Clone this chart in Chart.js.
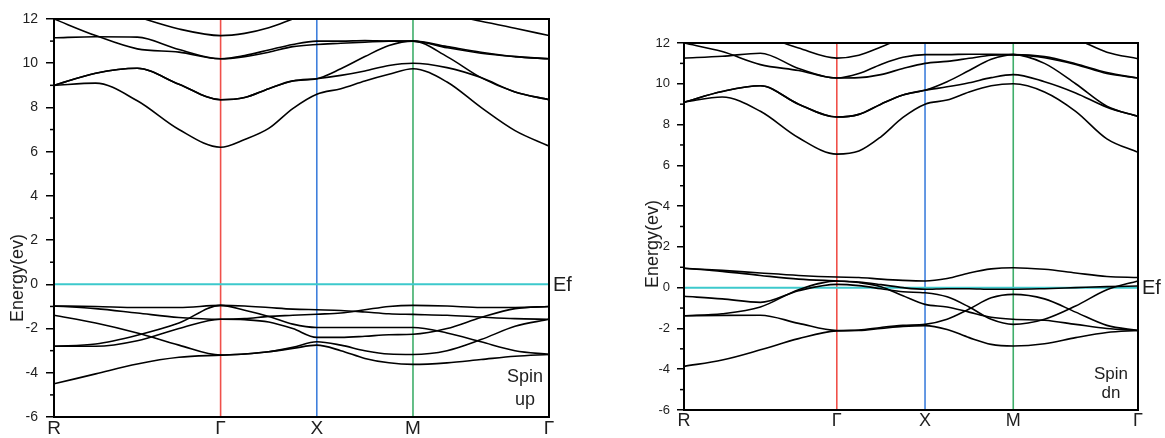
<!DOCTYPE html>
<html>
<head>
<meta charset="utf-8">
<script src="https://cdn.jsdelivr.net/npm/chart.js@4"></script>
<style>
  html, body { margin: 0; padding: 0; background: #fff; }
  body { width: 1165px; height: 438px; position: relative; overflow: hidden; }
  .box { position: absolute; top: 0; }
</style>
</head>
<body>
<div class="box" style="left:0px;width:600px;height:438px;"><canvas id="up"></canvas></div>
<div class="box" style="left:620px;width:545px;height:438px;"><canvas id="dn"></canvas></div>
<script>
// k-path distance (R -> Γ -> X -> M -> Γ)
const kPath = [0, 0.433, 0.866, 1.299, 1.732, 1.982, 2.232, 2.482, 2.732, 2.982, 3.232, 3.482, 3.732, 4.086, 4.439, 4.793, 5.146];
const highSym = [0, 1.732, 2.732, 3.732, 5.146];
const symLabels = ['R', 'Γ', 'X', 'M', 'Γ'];
const symColors = [null, '#f0504a', '#3f7fdc', '#3fae6a', null];
const yTicks = [-6, -4, -2, 0, 2, 4, 6, 8, 10, 12];
const yMinor = [-5, -3, -1, 1, 3, 5, 7, 9, 11];

// Spin up bands (eV)
const upC1 = [9.0, 9.1, 8.3, 7.0, 6.2, 6.55, 7.05, 7.95, 8.6, 8.85, 9.2, 9.5, 9.75, 9.15, 8.0, 6.95, 6.25];
const upC2 = [9.0, 9.55, 9.77, 9.05, 8.35, 8.45, 8.85, 9.2, 9.3, 9.45, 9.65, 9.9, 10.0, 9.8, 9.35, 8.7, 8.35];
const upC3 = [11.15, 11.2, 11.18, 10.62, 10.2, 10.3, 10.5, 10.75, 10.85, 10.9, 10.95, 11.0, 11.0, 10.7, 10.45, 10.3, 10.2];
const upC4 = [12.0, 11.25, 10.65, 10.5, 10.2, 10.35, 10.6, 10.85, 11.0, 11.0, 11.02, 11.0, 11.0, 10.75, 10.5, 10.3, 10.2];
const upC5 = [12.9, 12.7, 12.1, 11.55, 11.25, 11.35, 11.6, 12.0, 12.4, 12.5, 12.4, 12.2, 12.0, 12.15, 11.9, 11.58, 11.25];
const upC6 = [9.0, 9.55, 9.77, 9.05, 8.35, 8.45, 8.85, 9.2, 9.3, 9.75, 10.3, 10.8, 11.0, 10.3, 9.35, 8.7, 8.35];
const upV1 = [-0.98, -1.0, -1.05, -1.05, -0.95, -0.98, -1.05, -1.12, -1.15, -1.18, -1.25, -1.33, -1.36, -1.4, -1.48, -1.55, -1.58];
const upV2 = [-2.8, -2.7, -2.3, -1.75, -0.95, -1.17, -1.45, -1.8, -1.95, -1.95, -1.95, -1.95, -1.95, -2.2, -2.6, -3.0, -3.17];
const upV3 = [-2.8, -2.8, -2.55, -2.0, -1.58, -1.6, -1.7, -2.0, -2.4, -2.4, -2.35, -2.28, -2.26, -2.0, -1.5, -1.1, -1.0];
const upV4 = [-1.4, -1.75, -2.2, -2.75, -3.2, -3.15, -3.05, -2.85, -2.6, -2.75, -3.0, -3.15, -3.17, -3.0, -2.5, -1.9, -1.58];
const upV5 = [-4.5, -4.05, -3.6, -3.3, -3.2, -3.15, -3.05, -2.9, -2.75, -3.0, -3.35, -3.55, -3.62, -3.55, -3.4, -3.25, -3.17];
const upV6 = [-0.98, -1.1, -1.3, -1.5, -1.58, -1.55, -1.45, -1.4, -1.35, -1.3, -1.15, -1.0, -0.95, -0.98, -1.05, -1.05, -1.0];

// Spin down bands (eV)
const dnC1 = [9.1, 9.35, 8.65, 7.35, 6.55, 6.7, 7.4, 8.35, 9.0, 9.2, 9.6, 9.9, 10.0, 9.6, 8.65, 7.3, 6.64];
const dnC2 = [9.1, 9.62, 9.9, 9.0, 8.37, 8.5, 9.0, 9.45, 9.68, 9.85, 10.05, 10.3, 10.45, 10.1, 9.55, 8.85, 8.4];
const dnC3 = [9.1, 9.62, 9.9, 9.0, 8.37, 8.5, 9.0, 9.45, 9.68, 10.1, 10.65, 11.2, 11.43, 11.0, 10.0, 8.9, 8.4];
const dnC4 = [11.26, 11.35, 11.5, 10.75, 10.28, 10.3, 10.45, 10.75, 11.0, 11.1, 11.25, 11.4, 11.43, 11.33, 10.98, 10.55, 10.28];
const dnC5 = [12.0, 11.58, 10.94, 10.65, 10.28, 10.5, 10.95, 11.3, 11.43, 11.43, 11.45, 11.45, 11.43, 11.28, 10.95, 10.5, 10.28];
const dnC6 = [12.9, 12.8, 12.4, 11.75, 11.26, 11.4, 11.8, 12.25, 12.5, 12.6, 12.7, 12.7, 12.7, 12.6, 12.2, 11.55, 11.23];
const dnV1 = [0.95, 0.85, 0.72, 0.6, 0.52, 0.5, 0.42, 0.36, 0.33, 0.45, 0.72, 0.92, 0.98, 0.9, 0.72, 0.55, 0.5];
const dnV2 = [0.95, 0.8, 0.6, 0.42, 0.33, 0.28, 0.15, 0.0, -0.08, -0.05, -0.05, -0.08, -0.08, -0.05, 0.0, 0.05, 0.08];
const dnV3 = [-0.42, -0.55, -0.72, -0.15, 0.16, 0.1, -0.05, -0.2, -0.25, -0.45, -0.95, -1.55, -1.8, -1.55, -0.9, -0.1, 0.33];
const dnV4 = [-1.38, -1.28, -0.95, -0.1, 0.33, 0.25, 0.05, -0.4, -0.82, -0.95, -1.2, -1.45, -1.55, -1.6, -1.8, -2.0, -2.1];
const dnV5 = [-1.38, -1.36, -1.35, -1.75, -2.1, -2.08, -1.95, -1.85, -1.8, -1.55, -1.05, -0.5, -0.33, -0.55, -1.2, -1.85, -2.1];
const dnV6 = [-3.86, -3.55, -3.05, -2.5, -2.12, -2.1, -2.0, -1.9, -1.86, -2.05, -2.45, -2.78, -2.86, -2.75, -2.45, -2.2, -2.1];

const upBands = [upC1, upC2, upC3, upC4, upC5, upC6, upV1, upV2, upV3, upV4, upV5, upV6];
const dnBands = [dnC1, dnC2, dnC3, dnC4, dnC5, dnC6, dnV1, dnV2, dnV3, dnV4, dnV5, dnV6];

const FONT = "'Liberation Sans', Arial, sans-serif";
const TXT = '#1e1e1e';

function buildDatasets(bands) {
  const ds = [];
  bands.forEach(b => {
    ds.push({
      data: b.map((e, i) => ({ x: kPath[i], y: e })),
      borderColor: '#000', borderWidth: 1.6, pointRadius: 0,
      cubicInterpolationMode: 'monotone', order: 1
    });
  });
  ds.push({
    data: [{ x: highSym[0], y: 0 }, { x: highSym[4], y: 0 }],
    borderColor: '#3cc9cc', borderWidth: 2, pointRadius: 0, order: 2
  });
  highSym.forEach((k, i) => {
    if (!symColors[i]) return;
    ds.push({
      data: [{ x: k, y: yTicks[0] }, { x: k, y: yTicks[yTicks.length - 1] }],
      borderColor: symColors[i], borderWidth: 1.6, pointRadius: 0, order: 3
    });
  });
  return ds;
}

function decorPlugin(opts) {
  return {
    id: 'decor',
    afterDatasetsDraw(chart) {
      const ctx = chart.ctx, a = chart.chartArea, ys = chart.scales.y;
      ctx.save();
      ctx.strokeStyle = '#000';
      ctx.lineWidth = 2;
      ctx.strokeRect(a.left, a.top, a.right - a.left, a.bottom - a.top);
      ctx.lineWidth = 1.5;
      yMinor.forEach(v => {
        const p = ys.getPixelForValue(v);
        ctx.beginPath(); ctx.moveTo(a.left - opts.minorLen, p); ctx.lineTo(a.left, p); ctx.stroke();
      });
      ctx.fillStyle = TXT;
      ctx.font = opts.efSize + 'px ' + FONT;
      ctx.textAlign = 'left'; ctx.textBaseline = 'middle';
      ctx.fillText('Ef', a.right + 4, ys.getPixelForValue(0) + 1);
      ctx.font = opts.spinSize + 'px ' + FONT;
      ctx.textAlign = 'center'; ctx.textBaseline = 'alphabetic';
      ctx.fillText('Spin', a.right - opts.spinDx, a.bottom - opts.spinY1);
      ctx.fillText(opts.spinWord, a.right - opts.spinDx, a.bottom - opts.spinY2);
      ctx.font = opts.titleSize + 'px ' + FONT;
      ctx.translate(opts.titleX, opts.titleY);
      ctx.rotate(-Math.PI / 2);
      ctx.textAlign = 'center'; ctx.textBaseline = 'middle';
      ctx.fillText('Energy(ev)', 0, 0);
      ctx.restore();
    }
  };
}

function makeChart(id, bands, cfg) {
  new Chart(document.getElementById(id), {
    type: 'line',
    data: { datasets: buildDatasets(bands) },
    options: {
      responsive: true, maintainAspectRatio: false, animation: false,
      layout: { padding: { left: 0, top: cfg.top, right: cfg.right, bottom: 0 } },
      plugins: { legend: { display: false }, tooltip: { enabled: false } },
      scales: {
        x: {
          type: 'linear', min: highSym[0], max: highSym[4],
          afterBuildTicks: s => { s.ticks = highSym.map(v => ({ value: v })); },
          afterFit: s => { s.height = cfg.xH; },
          grid: { display: false, drawTicks: false },
          border: { display: false },
          ticks: {
            autoSkip: false, maxRotation: 0, padding: cfg.xPad, color: TXT,
            font: { family: FONT, size: cfg.xFont },
            callback: (v, i) => symLabels[i]
          }
        },
        y: {
          min: yTicks[0], max: yTicks[yTicks.length - 1],
          afterBuildTicks: s => { s.ticks = yTicks.map(v => ({ value: v })); },
          afterFit: s => { s.width = cfg.yW; },
          grid: { drawOnChartArea: false, drawTicks: true, tickLength: cfg.tickLen, color: '#000', lineWidth: 1.5 },
          border: { display: true, color: '#000', width: 2 },
          ticks: {
            padding: cfg.yPad, color: TXT,
            font: { family: FONT, size: cfg.yFont },
            callback: v => String(v)
          }
        }
      }
    },
    plugins: [decorPlugin(cfg)]
  });
}

makeChart('up', upBands, {
  top: 19, right: 51, xH: 21, yW: 54, tickLen: 8, yPad: 8, yFont: 14, xFont: 19, xPad: 0,
  minorLen: 4, efSize: 20, spinSize: 18, spinWord: 'up', spinDx: 24, spinY1: 35, spinY2: 12,
  titleSize: 18, titleX: 18, titleY: 278
});
makeChart('dn', dnBands, {
  top: 43, right: 27, xH: 28, yW: 64, tickLen: 7, yPad: 7, yFont: 13, xFont: 18, xPad: 0,
  minorLen: 4, efSize: 20, spinSize: 17, spinWord: 'dn', spinDx: 27, spinY1: 31, spinY2: 12,
  titleSize: 18, titleX: 33, titleY: 244
});
</script>
</body>
</html>
